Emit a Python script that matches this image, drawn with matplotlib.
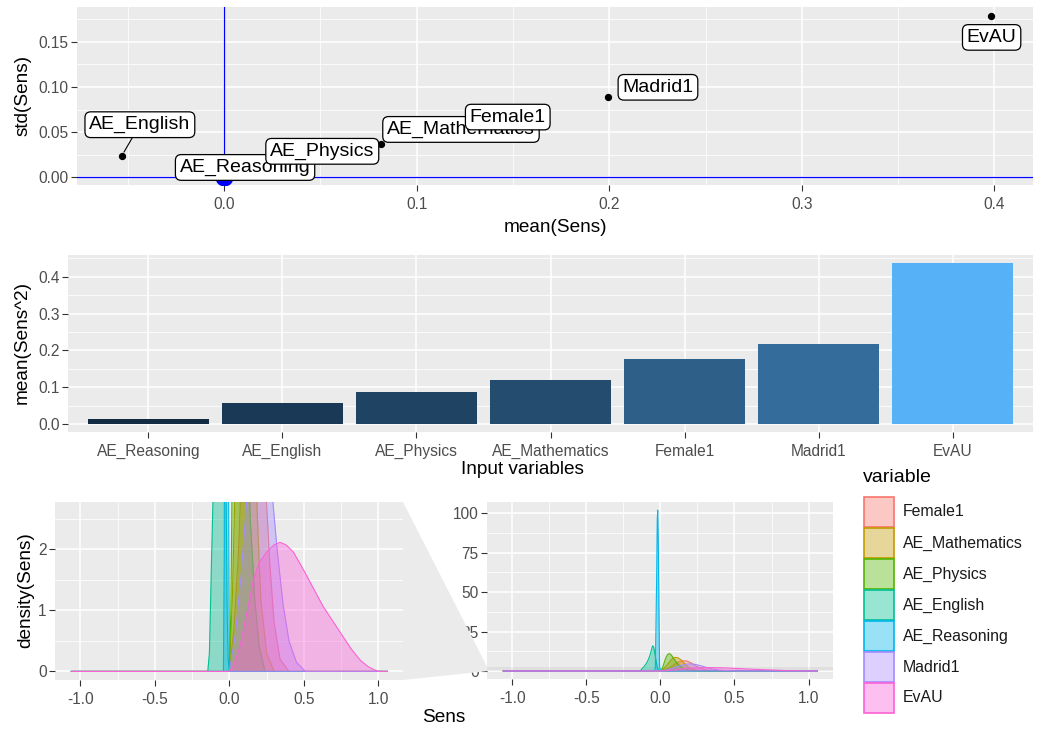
import matplotlib.pyplot as plt
import numpy as np
from matplotlib.colors import LinearSegmentedColormap, Normalize, to_rgba
from matplotlib.patches import Polygon, Rectangle
from matplotlib.ticker import MultipleLocator

plt.rcParams["font.family"] = ["Liberation Sans", "DejaVu Sans"]

# sensitivity summary per input variable
variables = ["Female1", "AE_Mathematics", "AE_Physics", "AE_English",
             "AE_Reasoning", "Madrid1", "EvAU"]
var_colors = ["#F8766D", "#C49A00", "#53B400", "#00C094",
              "#00B6EB", "#A58AFF", "#FB61D7"]
mean_sens = [0.167, 0.110, 0.0816, -0.0531, 0.001, 0.1993, 0.398]
std_sens = [0.060, 0.043, 0.0365, 0.0239, 0.012, 0.0885, 0.178]

# bar chart, ordered by importance
bar_vars = ["AE_Reasoning", "AE_English", "AE_Physics", "AE_Mathematics",
            "Female1", "Madrid1", "EvAU"]
bar_values = [0.012, 0.058, 0.087, 0.118, 0.177, 0.218, 0.437]

# density curves of the sensitivities
female1_x = [-1.06, 0.0, 0.03, 0.06, 0.09, 0.12, 0.15, 0.18, 0.21, 0.24, 0.27, 0.30, 0.34, 0.40, 1.06]
female1_y = [0, 0, 0.7, 1.9, 3.8, 5.6, 6.5, 6.3, 5.0, 3.2, 1.8, 0.8, 0.2, 0, 0]
maths_x = [-1.06, 0.0, 0.02, 0.04, 0.06, 0.08, 0.10, 0.12, 0.14, 0.16, 0.18, 0.21, 0.25, 0.30, 1.06]
maths_y = [0, 0, 1.2, 3.2, 5.5, 7.8, 8.6, 8.3, 7.0, 5.0, 3.0, 1.2, 0.3, 0, 0]
physics_x = [-1.06, 0.0, 0.01, 0.02, 0.03, 0.04, 0.05, 0.06, 0.07, 0.08, 0.10, 0.12, 0.14, 0.17, 0.20, 0.24, 1.06]
physics_y = [0, 0, 1.0, 3.5, 6.5, 9.0, 10.5, 11.0, 10.5, 9.3, 6.5, 4.2, 2.5, 1.2, 0.4, 0, 0]
english_x = [-1.06, -0.145, -0.134, -0.12, -0.11, -0.10, -0.09, -0.08, -0.07, -0.06, -0.052,
             -0.045, -0.038, -0.03, -0.022, -0.015, -0.008, 0.0, 1.06]
english_y = [0, 0, 0.3, 1.8, 2.8, 4.0, 5.5, 7.5, 10.0, 13.5, 16.0,
             15.0, 11.5, 7.0, 3.0, 1.0, 0.2, 0, 0]
reasoning_x = [-1.06, -0.04, -0.034, -0.03, -0.025, -0.021, -0.018, -0.014, -0.011, -0.008, -0.005, 0.0, 1.06]
reasoning_y = [0, 0, 2, 26, 60, 96, 102, 80, 56, 25, 3, 0, 0]
madrid1_x = [-1.06, 0.0, 0.04, 0.08, 0.12, 0.16, 0.20, 0.24, 0.28, 0.32, 0.36, 0.40, 0.45, 0.51, 1.06]
madrid1_y = [0, 0, 0.6, 1.6, 2.9, 4.0, 4.5, 4.1, 3.1, 2.0, 1.1, 0.5, 0.15, 0, 0]
evau_x = [-1.06, 0.0, 0.03, 0.07, 0.10, 0.13, 0.16, 0.20, 0.25, 0.30, 0.34, 0.38, 0.43, 0.50,
          0.57, 0.63, 0.70, 0.76, 0.82, 0.88, 0.93, 0.97, 1.0, 1.06]
evau_y = [0, 0, 0.1, 0.4, 0.75, 1.1, 1.48, 1.78, 1.95, 2.07, 2.11, 2.07, 1.95, 1.65,
          1.33, 1.06, 0.8, 0.58, 0.36, 0.18, 0.08, 0.03, 0, 0]

densities = {
    "Female1": (female1_x, female1_y),
    "AE_Mathematics": (maths_x, maths_y),
    "AE_Physics": (physics_x, physics_y),
    "AE_English": (english_x, english_y),
    "AE_Reasoning": (reasoning_x, reasoning_y),
    "Madrid1": (madrid1_x, madrid1_y),
    "EvAU": (evau_x, evau_y),
}

# where each repelled label sits relative to its point (pixels)
label_offsets = {
    "Female1": (-38, 6),
    "AE_Mathematics": (25, 9),
    "AE_Physics": (-59, -7),
    "AE_English": (18, 31),
    "AE_Reasoning": (19, -1),
    "Madrid1": (50, 10),
    "EvAU": (1, -21),
}

W, H = 1042, 731
TICK_GREY = "#4D4D4D"


def rect(x0, y0, x1, y1):
    return [x0 / W, 1 - y1 / H, (x1 - x0) / W, (y1 - y0) / H]


def gg_style(ax, minor_x=True):
    ax.set_facecolor("#EBEBEB")
    for s in ax.spines.values():
        s.set_visible(False)
    ax.set_axisbelow(True)
    ax.grid(True, which="major", color="white", lw=1.1)
    ax.grid(True, which="minor", axis="both" if minor_x else "y", color="white", lw=0.55)
    ax.tick_params(which="major", length=4, width=0.8, color="#333333",
                   labelsize=11.2, labelcolor=TICK_GREY, pad=2)
    ax.tick_params(axis="x", which="major", pad=4.5)
    ax.tick_params(which="minor", length=0)


fig = plt.figure(figsize=(W / 100, H / 100), dpi=100)

# --- mean vs std of the sensitivities
ax1 = fig.add_axes(rect(77, 7, 1033, 185))
gg_style(ax1)
ax1.set_xlim(-0.0764, 0.420)
ax1.set_ylim(-0.0085, 0.1884)
ax1.xaxis.set_major_locator(MultipleLocator(0.1))
ax1.xaxis.set_minor_locator(MultipleLocator(0.05))
ax1.yaxis.set_major_locator(MultipleLocator(0.05))
ax1.yaxis.set_minor_locator(MultipleLocator(0.025))
ax1.xaxis.set_major_formatter(lambda v, p: f"{v:.1f}")
ax1.yaxis.set_major_formatter(lambda v, p: f"{v:.2f}")
ax1.axhline(0, color="blue", lw=0.9, zorder=1)
ax1.axvline(0, color="blue", lw=0.9, zorder=1)
ax1.scatter([0], [0], s=170, color="blue", lw=0, zorder=2)
ax1.scatter(mean_sens, std_sens, s=18, color="black", zorder=3)
for name in reversed(variables):
    i = variables.index(name)
    arrow = None
    if name == "AE_English":
        arrow = dict(arrowstyle="-", color="black", lw=0.8, shrinkA=0, shrinkB=3)
    ax1.annotate(name, (mean_sens[i], std_sens[i]), xytext=label_offsets[name],
                 textcoords="offset pixels", ha="center", va="center", fontsize=14,
                 bbox=dict(boxstyle="round,pad=0.22,rounding_size=0.3", fc="white",
                           ec="black", lw=0.9),
                 arrowprops=arrow, zorder=5)
fig.text(23 / W, 1 - 96 / H, "std(Sens)", rotation=90, ha="center", va="center", fontsize=13.7)
fig.text(555 / W, 1 - 227 / H, "mean(Sens)", ha="center", va="center", fontsize=13.7)

# --- importance bars
ax2 = fig.add_axes(rect(68, 255, 1033, 432))
gg_style(ax2, minor_x=False)
cmap = LinearSegmentedColormap.from_list("sens", ["#132B43", "#56B1F7"])
norm = Normalize(min(bar_values), max(bar_values))
xpos = np.arange(len(bar_vars))
ax2.bar(xpos, bar_values, width=0.9, color=cmap(norm(bar_values)), zorder=2)
ax2.set_xlim(-0.6, len(bar_vars) - 0.4)
ax2.set_ylim(-0.022, 0.459)
ax2.set_xticks(xpos, bar_vars)
ax2.yaxis.set_major_locator(MultipleLocator(0.1))
ax2.yaxis.set_minor_locator(MultipleLocator(0.05))
ax2.yaxis.set_major_formatter(lambda v, p: f"{v:.1f}")
fig.text(22 / W, 1 - 342 / H, "mean(Sens^2)", rotation=90, ha="center", va="center", fontsize=13.7)
fig.text(522 / W, 1 - 469 / H, "Input variables", ha="center", va="center", fontsize=13.7)

# --- densities: zoomed view (left) and full view (right)
ax_l = fig.add_axes(rect(55, 502, 403, 680))
ax_r = fig.add_axes(rect(487, 502, 833, 679))
for ax in (ax_l, ax_r):
    gg_style(ax)
    ax.set_xlim(-1.17, 1.165)
    ax.xaxis.set_major_locator(MultipleLocator(0.5))
    ax.xaxis.set_minor_locator(MultipleLocator(0.25))
    ax.xaxis.set_major_formatter(lambda v, p: f"{v:.1f}")
ax_l.set_ylim(-0.14, 2.77)
ax_l.yaxis.set_major_locator(MultipleLocator(1))
ax_l.yaxis.set_minor_locator(MultipleLocator(0.5))
ax_r.set_ylim(-5.1, 107.1)
ax_r.yaxis.set_major_locator(MultipleLocator(25))
ax_r.yaxis.set_minor_locator(MultipleLocator(12.5))

# highlight of the zoomed range inside the full view
zoom_lo, zoom_hi = ax_l.get_ylim()
ax_r.axhspan(zoom_lo, zoom_hi, color="black", alpha=0.05, lw=0, zorder=0.6)

for ax in (ax_l, ax_r):
    for name, c in zip(variables, var_colors):
        xs, ys = densities[name]
        ax.fill_between(xs, ys, color=c, alpha=0.4, lw=0, zorder=2)
        ax.plot(xs, ys, color=c, lw=0.8, zorder=2)

# trapezoid linking the two views
to_fig = fig.transFigure.inverted()
pos_l = ax_l.get_position()
x_r = ax_r.get_position().x0
y_lo = to_fig.transform(ax_r.transData.transform((0, zoom_lo)))[1]
y_hi = to_fig.transform(ax_r.transData.transform((0, zoom_hi)))[1]
fig.patches.append(Polygon([(pos_l.x1, pos_l.y1), (x_r, y_hi), (x_r, y_lo), (pos_l.x1, pos_l.y0)],
                           closed=True, transform=fig.transFigure, fc="#EBEBEB", ec="none", zorder=0))

fig.text(26 / W, 1 - 590 / H, "density(Sens)", rotation=90, ha="center", va="center", fontsize=13.7)
fig.text(444 / W, 1 - 717 / H, "Sens", ha="center", va="center", fontsize=13.7)

# legend for the fill colours
fig.text(863 / W, 1 - 478 / H, "variable", ha="left", va="center", fontsize=14)
for i, (name, c) in enumerate(zip(variables, var_colors)):
    top = 497 + 31 * i
    fig.patches.append(Rectangle((864 / W, 1 - (top + 30) / H), 30 / W, 30 / H,
                                 transform=fig.transFigure, fc=to_rgba(c, 0.4), ec=c, lw=1.2))
    fig.text(903 / W, 1 - (top + 15) / H, name, ha="left", va="center", fontsize=11.4,
             color="#1A1A1A")

fig.savefig("out.png", dpi=100)
